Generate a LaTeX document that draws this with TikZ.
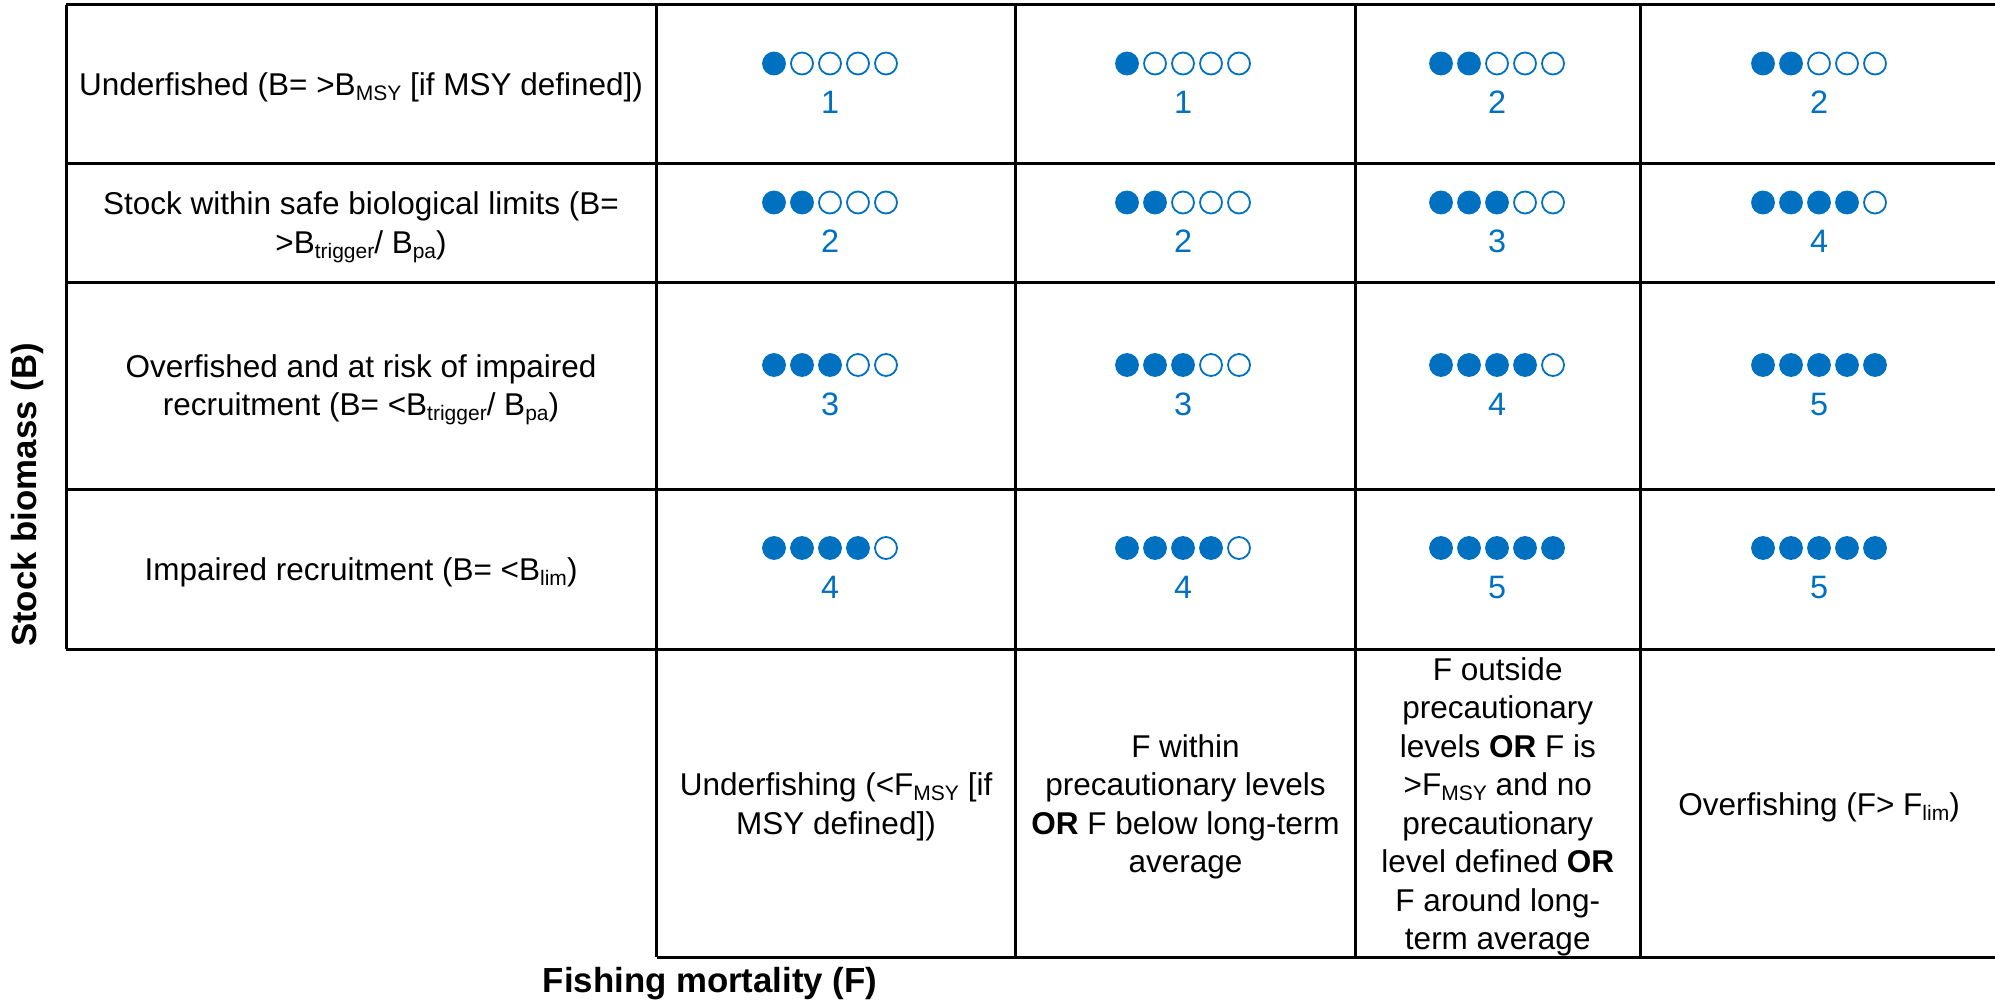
\documentclass[tikz,border=0pt]{standalone}
\usepackage{fontspec}
\setmainfont{Liberation Sans}
\definecolor{dotblue}{HTML}{0070C0}
\newcommand\sbs[1]{\raisebox{-0.3ex}{\fontsize{10.5}{10.5}\selectfont #1}}
\tikzset{
  gridline/.style={line width=1.5pt, black},
  celltext/.style={font=\fontsize{15.75}{19.25}\selectfont, align=center, inner sep=0pt},
  pip/.style={circle, inner sep=0pt, minimum size=11pt, draw=dotblue, line width=0.9pt},
  num/.style={font=\fontsize{16.2}{19.25}\selectfont, text=dotblue, inner sep=0pt},
  axislabel/.style={font=\fontsize{17.4}{20}\selectfont\bfseries, inner sep=0pt}
}
\begin{document}
\begin{tikzpicture}[x=0.5pt,y=-0.5pt]
\useasboundingbox (0,0) rectangle (1995,1005);
\clip (0,0) rectangle (1995,1005);
% grid
\foreach \yy in {5,164,283,489,649} \draw[gridline] (66,\yy) -- (2000,\yy);
\draw[gridline] (656.5,957) -- (2000,957);
\draw[gridline] (66,5) -- (66,649);
\foreach \xx in {656.5,1015.5,1355.5,1640} \draw[gridline] (\xx,5) -- (\xx,957);
% left labels
\node[celltext] (L1) at (361,87.5) {Underfished (B= >B\sbs{MSY} [if MSY defined])};
\node[celltext] (L2) at (361,227.5) {Stock within safe biological limits (B=\\>B\sbs{trigger}/ B\sbs{pa})};
\node[celltext] (L3) at (361,390) {Overfished and at risk of impaired\\recruitment (B= <B\sbs{trigger}/ B\sbs{pa})};
\node[celltext] (L4) at (361,572) {Impaired recruitment (B= <B\sbs{lim})};
% bottom labels
\node[celltext] (B1) at (836,807) {Underfishing (<F\sbs{MSY} [if\\MSY defined])};
\node[celltext] (B2) at (1185.5,807) {F within\\precautionary levels\\\textbf{OR} F below long-term\\average};
\node[celltext] (B3) at (1497.75,807) {F outside\\precautionary\\levels \textbf{OR} F is\\>F\sbs{MSY} and no\\precautionary\\level defined \textbf{OR}\\F around long-\\term average};
\node[celltext] (B4) at (1819,807) {Overfishing (F> F\sbs{lim})};
% axis labels
\node[axislabel, rotate=90] (ylab) at (28,495) {Stock biomass (B)};
\node[axislabel] (xlab) at (710,984) {Fishing mortality (F)};
% ratings
\foreach \r/\c/\n in {1/1/1,1/2/1,1/3/2,1/4/2,
                      2/1/2,2/2/2,2/3/3,2/4/4,
                      3/1/3,3/2/3,3/3/4,3/4/5,
                      4/1/4,4/2/4,4/3/5,4/4/5}{
  \pgfmathsetmacro{\cx}{{830,1183,1497,1819}[\c-1]}
  \pgfmathsetmacro{\ry}{{84.5,223.5,386,569}[\r-1]}
  \foreach \k in {1,...,5}{
    \pgfmathsetmacro{\dx}{\cx+(\k-3)*28}
    \pgfmathsetmacro{\dy}{\ry-21}
    \ifnum\k>\n
      \node[pip] (d\r\c\k) at (\dx,\dy) {};
    \else
      \node[pip, fill=dotblue] (d\r\c\k) at (\dx,\dy) {};
    \fi
  }
  \node[num, anchor=base] (n\r\c) at (\cx,\ry+29.5) {\n};
}
\end{tikzpicture}
\end{document}
